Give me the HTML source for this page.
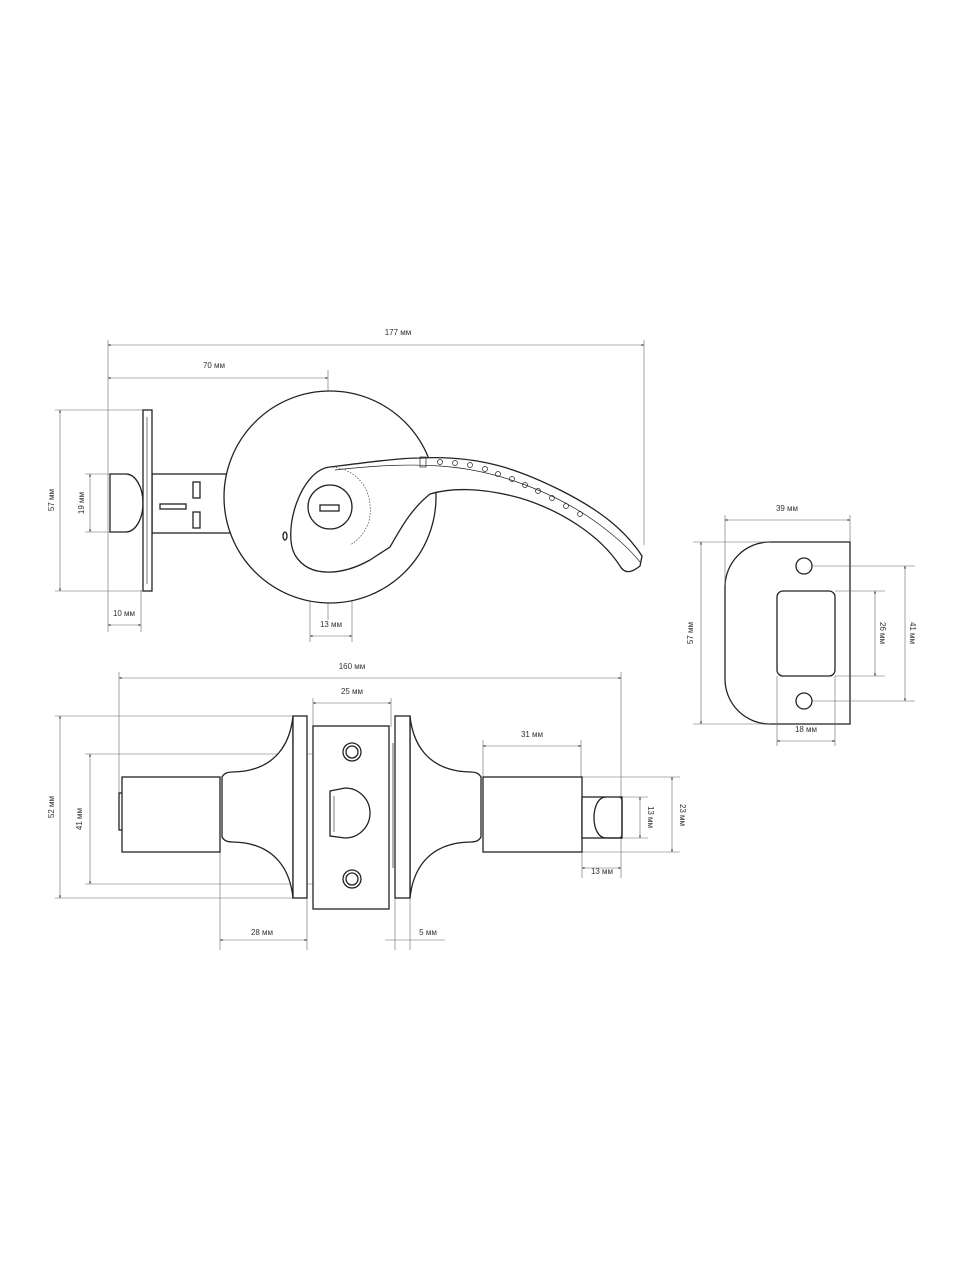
<!DOCTYPE html>
<html><head><meta charset="utf-8"><style>
html,body{margin:0;padding:0;background:#fff}
svg{display:block}
text{font-family:"Liberation Sans",sans-serif;font-size:8px;fill:#333}
.o{fill:none;stroke:#222;stroke-width:1.3}
.d{fill:none;stroke:#666;stroke-width:0.6}
.w{fill:#fff;stroke:#222;stroke-width:1.3}
</style></head><body>
<svg width="960" height="1280" viewBox="0 0 960 1280" xmlns="http://www.w3.org/2000/svg">
<defs><marker id="a" viewBox="0 0 6 6" refX="5" refY="3" markerWidth="5" markerHeight="5" orient="auto-start-reverse"><path d="M0,1 L6,3 L0,5z" fill="#444"/></marker></defs>

<!-- TOP VIEW -->
<g>
<line class="d" x1="108" y1="345" x2="644" y2="345" marker-start="url(#a)" marker-end="url(#a)"/>
<text x="398" y="335" text-anchor="middle">177 мм</text>
<line class="d" x1="108" y1="378" x2="328" y2="378" marker-start="url(#a)" marker-end="url(#a)"/>
<text x="214" y="368" text-anchor="middle">70 мм</text>
<line class="d" x1="108" y1="340" x2="108" y2="632"/>
<line class="d" x1="644" y1="340" x2="644" y2="545"/>
<line class="d" x1="328" y1="370" x2="328" y2="620"/>
<line class="d" x1="55" y1="410" x2="148" y2="410"/>
<line class="d" x1="55" y1="591" x2="148" y2="591"/>
<line class="d" x1="60" y1="410" x2="60" y2="591" marker-start="url(#a)" marker-end="url(#a)"/>
<text transform="translate(54,500) rotate(-90)" text-anchor="middle">57 мм</text>
<line class="d" x1="85" y1="474" x2="110" y2="474"/>
<line class="d" x1="85" y1="532" x2="110" y2="532"/>
<line class="d" x1="90" y1="474" x2="90" y2="532" marker-start="url(#a)" marker-end="url(#a)"/>
<text transform="translate(84,503) rotate(-90)" text-anchor="middle">19 мм</text>
<line class="d" x1="141" y1="590" x2="141" y2="632"/>
<line class="d" x1="108" y1="625" x2="141" y2="625" marker-start="url(#a)" marker-end="url(#a)"/>
<text x="124" y="616" text-anchor="middle">10 мм</text>
<line class="d" x1="310" y1="530" x2="310" y2="642"/>
<line class="d" x1="352" y1="530" x2="352" y2="642"/>
<line class="d" x1="310" y1="636" x2="352" y2="636" marker-start="url(#a)" marker-end="url(#a)"/>
<text x="331" y="627" text-anchor="middle">13 мм</text>

<!-- latch bolt -->
<rect class="w" x="152" y="474" width="90" height="59"/>
<path class="o" d="M110,474 L126,474 A17,29 0 0 1 126,532 L110,532 Z"/>
<rect class="w" x="143" y="410" width="9" height="181"/>
<line class="o" x1="147" y1="417" x2="147" y2="584" style="stroke-width:0.6"/>
<rect class="o" x="193" y="482" width="7" height="16"/>
<rect class="o" x="193" y="512" width="7" height="16"/>
<rect class="o" x="160" y="504" width="26" height="5"/>
<!-- rose -->
<circle class="w" cx="330" cy="497" r="106"/>
<ellipse class="o" cx="285" cy="536" rx="2" ry="4"/>
<!-- lever -->
<path class="w" d="M330,467 C370,462 400,458 420,458 C480,455 520,470 560,490 C600,510 625,530 642,556 L640,566 C630,574 624,573 620,566 C600,535 560,510 520,498 C480,487 450,488 430,494 C410,510 400,530 390,547 L370,560 C345,574 310,580 295,555 C282,532 300,470 330,467 Z"/>
<path class="o" style="stroke-width:0.7" d="M335,470 C380,465 410,464 440,466 C500,470 560,495 600,525 C620,540 632,552 640,562"/>
<path class="o" style="stroke-width:0.6;stroke-dasharray:1.5 1.5" d="M330,467 A40,40 0 0 1 370,505 A40,40 0 0 1 350,545"/>
<rect class="o" x="420" y="457" width="6" height="10" style="stroke-width:0.7"/>
<g class="o" style="stroke-width:0.7">
<circle cx="440" cy="462" r="2.5"/><circle cx="455" cy="463" r="2.5"/><circle cx="470" cy="465" r="2.5"/><circle cx="485" cy="469" r="2.5"/><circle cx="498" cy="474" r="2.5"/><circle cx="512" cy="479" r="2.5"/><circle cx="525" cy="485" r="2.5"/><circle cx="538" cy="491" r="2.5"/><circle cx="552" cy="498" r="2.5"/><circle cx="566" cy="506" r="2.5"/><circle cx="580" cy="514" r="2.5"/>
</g>
<circle class="w" cx="330" cy="507" r="22"/>
<rect class="o" x="320" y="505" width="19" height="6"/>
</g>

<!-- STRIKE PLATE -->
<g>
<path class="w" d="M770,542 L850,542 L850,724 L770,724 A45,45 0 0 1 725,679 L725,587 A45,45 0 0 1 770,542 Z"/>
<rect class="o" x="777" y="591" width="58" height="85" rx="6"/>
<circle class="o" cx="804" cy="566" r="8"/>
<circle class="o" cx="804" cy="701" r="8"/>
<line class="d" x1="725" y1="515" x2="725" y2="585"/>
<line class="d" x1="850" y1="515" x2="850" y2="542"/>
<line class="d" x1="725" y1="520" x2="850" y2="520" marker-start="url(#a)" marker-end="url(#a)"/>
<text x="787" y="511" text-anchor="middle">39 мм</text>
<line class="d" x1="693" y1="542" x2="770" y2="542"/>
<line class="d" x1="693" y1="724" x2="770" y2="724"/>
<line class="d" x1="701" y1="542" x2="701" y2="724" marker-start="url(#a)" marker-end="url(#a)"/>
<text transform="translate(693,633) rotate(-90)" text-anchor="middle">57 мм</text>
<line class="d" x1="835" y1="591" x2="885" y2="591"/>
<line class="d" x1="835" y1="676" x2="885" y2="676"/>
<line class="d" x1="875" y1="591" x2="875" y2="676" marker-start="url(#a)" marker-end="url(#a)"/>
<text transform="translate(880,633) rotate(90)" text-anchor="middle">26 мм</text>
<line class="d" x1="812" y1="566" x2="915" y2="566"/>
<line class="d" x1="812" y1="701" x2="915" y2="701"/>
<line class="d" x1="905" y1="566" x2="905" y2="701" marker-start="url(#a)" marker-end="url(#a)"/>
<text transform="translate(910,633) rotate(90)" text-anchor="middle">41 мм</text>
<line class="d" x1="777" y1="676" x2="777" y2="746"/>
<line class="d" x1="835" y1="676" x2="835" y2="746"/>
<line class="d" x1="777" y1="741" x2="835" y2="741" marker-start="url(#a)" marker-end="url(#a)"/>
<text x="806" y="732" text-anchor="middle">18 мм</text>
</g>

<!-- SIDE VIEW -->
<g>
<line class="d" x1="119" y1="678" x2="621" y2="678" marker-start="url(#a)" marker-end="url(#a)"/>
<text x="352" y="669" text-anchor="middle">160 мм</text>
<line class="d" x1="119" y1="672" x2="119" y2="820"/>
<line class="d" x1="621" y1="672" x2="621" y2="878"/>
<line class="d" x1="313" y1="698" x2="313" y2="727"/>
<line class="d" x1="391" y1="698" x2="391" y2="727"/>
<line class="d" x1="313" y1="703" x2="391" y2="703" marker-start="url(#a)" marker-end="url(#a)"/>
<text x="352" y="694" text-anchor="middle">25 мм</text>
<line class="d" x1="483" y1="740" x2="483" y2="777"/>
<line class="d" x1="581" y1="740" x2="581" y2="777"/>
<line class="d" x1="483" y1="746" x2="581" y2="746" marker-start="url(#a)" marker-end="url(#a)"/>
<text x="532" y="737" text-anchor="middle">31 мм</text>
<line class="d" x1="55" y1="716" x2="300" y2="716"/>
<line class="d" x1="55" y1="898" x2="300" y2="898"/>
<line class="d" x1="60" y1="716" x2="60" y2="898" marker-start="url(#a)" marker-end="url(#a)"/>
<text transform="translate(54,807) rotate(-90)" text-anchor="middle">52 мм</text>
<line class="d" x1="85" y1="754" x2="370" y2="754"/>
<line class="d" x1="85" y1="884" x2="370" y2="884"/>
<line class="d" x1="90" y1="754" x2="90" y2="884" marker-start="url(#a)" marker-end="url(#a)"/>
<text transform="translate(82,819) rotate(-90)" text-anchor="middle">41 мм</text>
<line class="d" x1="582" y1="777" x2="680" y2="777"/>
<line class="d" x1="582" y1="852" x2="680" y2="852"/>
<line class="d" x1="672" y1="777" x2="672" y2="852" marker-start="url(#a)" marker-end="url(#a)"/>
<text transform="translate(680,815) rotate(90)" text-anchor="middle">23 мм</text>
<line class="d" x1="620" y1="797" x2="648" y2="797"/>
<line class="d" x1="620" y1="838" x2="648" y2="838"/>
<line class="d" x1="640" y1="797" x2="640" y2="838" marker-start="url(#a)" marker-end="url(#a)"/>
<text transform="translate(648,817) rotate(90)" text-anchor="middle">13 мм</text>
<line class="d" x1="582" y1="852" x2="582" y2="878"/>
<line class="d" x1="582" y1="868" x2="621" y2="868" marker-start="url(#a)" marker-end="url(#a)"/>
<text x="602" y="876" text-anchor="middle" dy="-2">13 мм</text>
<line class="d" x1="220" y1="852" x2="220" y2="950"/>
<line class="d" x1="307" y1="898" x2="307" y2="950"/>
<line class="d" x1="220" y1="940" x2="307" y2="940" marker-start="url(#a)" marker-end="url(#a)"/>
<text x="262" y="935" text-anchor="middle">28 мм</text>
<line class="d" x1="395" y1="898" x2="395" y2="950"/>
<line class="d" x1="410" y1="898" x2="410" y2="950"/>
<line class="d" x1="385" y1="940" x2="445" y2="940"/>
<text x="428" y="935" text-anchor="middle">5 мм</text>

<rect class="w" x="119" y="793" width="4" height="37"/>
<rect class="w" x="122" y="777" width="98" height="75"/>
<path class="w" d="M222,777 C226,770 232,773 245,771 C275,766 290,745 293,716 L293,898 C290,869 275,848 245,843 C232,841 226,844 222,837 Z"/>
<rect class="w" x="293" y="716" width="14" height="182"/>
<rect class="w" x="483" y="777" width="99" height="75"/>
<path class="w" d="M481,777 C477,770 471,773 458,771 C428,766 413,745 410,716 L410,898 C413,869 428,848 458,843 C471,841 477,844 481,837 Z"/>
<rect class="w" x="395" y="716" width="15" height="182"/>
<rect class="w" x="582" y="797" width="40" height="41"/>
<path class="o" d="M606,797 C590,797 590,838 606,838 L619,838 Q622,838 622,834 L622,801 Q622,797 619,797"/>
<line class="o" x1="307" y1="743" x2="307" y2="868" style="stroke-width:0.7"/>
<line class="o" x1="393" y1="743" x2="393" y2="868" style="stroke-width:0.7"/>
<rect class="w" x="313" y="726" width="76" height="183"/>
<circle class="o" cx="352" cy="752" r="9"/><circle class="o" cx="352" cy="752" r="6"/>
<circle class="o" cx="352" cy="879" r="9"/><circle class="o" cx="352" cy="879" r="6"/>
<path class="o" d="M330,791 L345,788 A25,25 0 0 1 345,838 L330,836 Z"/>
<line class="o" x1="334" y1="796" x2="334" y2="832" style="stroke-width:0.6"/>
</g>
</svg>
</body></html>
